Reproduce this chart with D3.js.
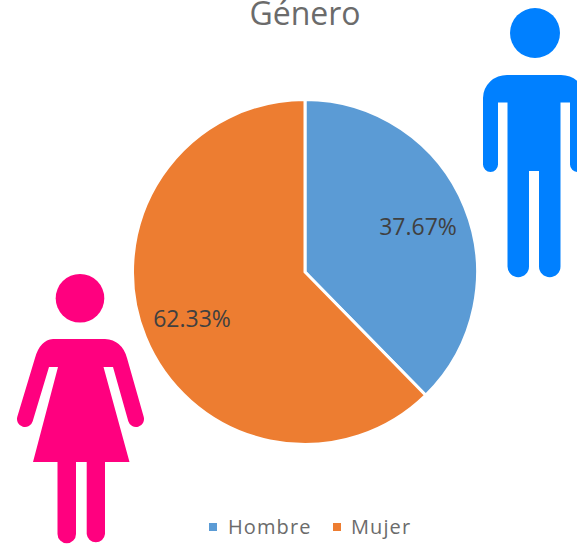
<!DOCTYPE html>
<html>
<head>
<meta charset="utf-8">
<script src="https://cdn.jsdelivr.net/npm/d3@7"></script>
<style>
  html, body { margin: 0; padding: 0; background: #fff; overflow: hidden; }
  text { font-family: "Open Sans", "Noto Sans", sans-serif; }
</style>
</head>
<body>
<div id="chart"></div>
<script>
const categories = ["Hombre", "Mujer"];
const values = [37.67, 62.33];
const colors = ["#5B9BD5", "#ED7D31"];
const title = "Género";

const width = 577;
const height = 544;
const radius = 172.5;

const svg = d3.select("#chart")
  .append("svg")
    .attr("width", width)
    .attr("height", height)
    .style("display", "block");

svg.append("text")
  .attr("x", 305)
  .attr("y", 25)
  .attr("text-anchor", "middle")
  .style("font-size", "32px")
  .style("fill", "#6b6b6b")
  .text(title);

const pie = d3.pie().sort(null);
const arc = d3.arc().innerRadius(0).outerRadius(radius);
const labelArc = d3.arc().innerRadius(122).outerRadius(122);

const g = svg.append("g")
  .attr("transform", "translate(305,272)");

g.selectAll("path")
  .data(pie(values))
  .enter()
  .append("path")
    .attr("d", arc)
    .attr("fill", (d, i) => colors[i])
    .attr("stroke", "#fff")
    .attr("stroke-width", 3);

g.selectAll("text")
  .data(pie(values))
  .enter()
  .append("text")
    .attr("transform", d => `translate(${labelArc.centroid(d)})`)
    .attr("text-anchor", "middle")
    .attr("dy", "0.4em")
    .style("font-size", "23px")
    .style("fill", "#404040")
    .text(d => d.value.toFixed(2) + "%");

// legend
const legendX = d3.scaleOrdinal().domain(categories).range([209, 333]);

const legend = svg.selectAll("g.legend")
  .data(categories)
  .enter()
  .append("g")
    .attr("class", "legend")
    .attr("transform", d => `translate(${legendX(d)},527)`);

legend.append("rect")
  .attr("y", -4)
  .attr("width", 8)
  .attr("height", 8)
  .attr("fill", (d, i) => colors[i]);

legend.append("text")
  .attr("x", (d, i) => i === 0 ? 19 : 18)
  .attr("dy", "0.36em")
  .style("font-size", "20px")
  .style("letter-spacing", "1.1px")
  .style("fill", "#6b6b6b")
  .text(d => d);

// man icon
const man = svg.append("g").attr("fill", "#0080FF");
man.append("circle").attr("cx", 535).attr("cy", 33).attr("r", 25);
man.append("path").attr("d",
  "M507.5 75 H560.5 A24 23 0 0 1 585 98 V164.5 A7.5 7.5 0 0 1 570 164.5 V102.5 H560.5 V266.5 A10.7 10.7 0 0 1 539 266.5 V171 H529 V266.5 A10.7 10.7 0 0 1 507.5 266.5 V102.5 H498 V164.5 A7.5 7.5 0 0 1 483 164.5 V98 A24 23 0 0 1 507.5 75 Z");

// woman icon
const woman = svg.append("g").attr("fill", "#FF007F");
woman.append("circle").attr("cx", 80).attr("cy", 298.3).attr("r", 24.3);
woman.append("path").attr("d",
  "M53 339 H105 Q122 340 127 358 L143.7 416.8 A8 8 0 0 1 128.3 421.2 L113 367 H103.5 L129.5 462 H105 V534 A9.2 9.2 0 0 1 86.7 534 V462 H76 V534 A9.2 9.2 0 0 1 57.5 534 V462 H33 L58 367 H49 L32.7 421.2 A8 8 0 0 1 17.3 416.8 L35 358 Q40 340 53 339 Z");
</script>
</body>
</html>
